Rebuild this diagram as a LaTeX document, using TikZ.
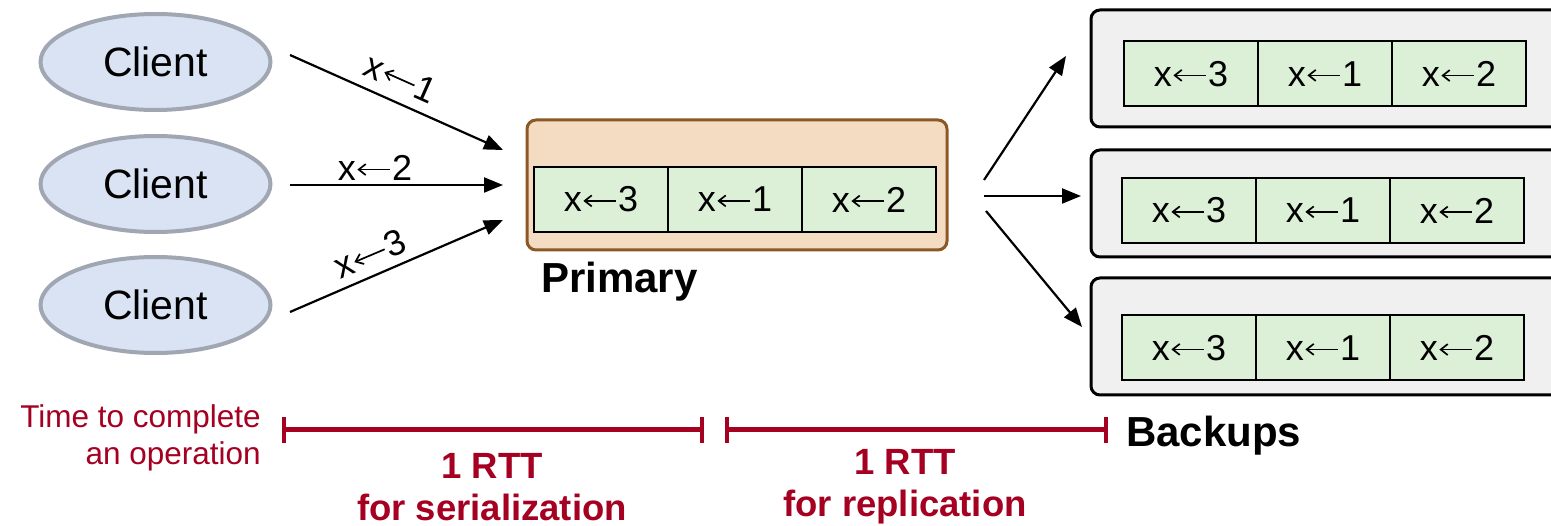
\documentclass[tikz,border=0pt]{standalone}
\usepackage{fontspec}
\setmainfont{Liberation Sans}
\usetikzlibrary{arrows.meta,shapes.geometric}

\definecolor{clientfill}{RGB}{218,227,243}
\definecolor{clientline}{RGB}{160,166,178}
\definecolor{primfill}{RGB}{244,220,194}
\definecolor{primline}{RGB}{140,88,38}
\definecolor{cellfill}{RGB}{220,240,216}
\definecolor{backfill}{RGB}{240,240,240}
\definecolor{rttred}{RGB}{165,0,33}

% assignment arrow drawn inline, sized for the 36pt log text
\newcommand\assignarrow{\hspace{0.5pt}\tikz[baseline=0pt]\draw[line width=1.7pt,
  {Straight Barb[length=7pt,width=11pt,line width=1.7pt]}-] (0pt,11pt) -- (33pt,11pt);\hspace{1pt}}
\newcommand\assign[1]{x\assignarrow#1}

\tikzset{
  client/.style={ellipse, draw=clientline, line width=4pt, fill=clientfill,
    minimum width=230pt, minimum height=96pt, inner sep=0pt,
    font=\fontsize{41}{47}\selectfont},
  cell/.style={rectangle, draw=black, line width=2pt, fill=cellfill,
    minimum width=134pt, minimum height=65pt, inner sep=0pt,
    font=\fontsize{36}{42}\selectfont},
  primbox/.style={rectangle, rounded corners=9pt, draw=primline, line width=3pt,
    fill=primfill, inner sep=0pt},
  backbox/.style={rectangle, rounded corners=9pt, draw=black, line width=3pt,
    fill=backfill, inner sep=0pt},
  msg/.style={line width=2.2pt, -{Triangle[length=19pt,width=15pt]}},
  msglabel/.style={font=\fontsize{36}{42}\selectfont, inner sep=0pt},
  title/.style={font=\bfseries\fontsize{42}{48}\selectfont, inner sep=0pt},
  span/.style={draw=rttred, line width=5pt, {Bar[width=26pt,line width=4pt]}-{Bar[width=26pt,line width=4pt]}},
  rttlabel/.style={text=rttred, font=\bfseries\fontsize{36.5}{42}\selectfont, align=center, inner sep=0pt},
}

\begin{document}
\begin{tikzpicture}[x=1pt,y=-1pt]
\useasboundingbox (0,0) rectangle (1551,526);
\clip (0,0) rectangle (1551,526);

% clients
\node[client] (c1) at (155.5,62) {Client};
\node[client] (c2) at (155.5,184) {Client};
\node[client] (c3) at (155.5,305) {Client};

% primary with its log
\node[primbox, minimum width=420pt, minimum height=130pt] (prim) at (737,185) {};
\node[cell] (p1) at (601,199.5) {\assign{3}};
\node[cell] (p2) at (735,199.5) {\assign{1}};
\node[cell] (p3) at (869,199.5) {\assign{2}};
\node[title, anchor=base west] (primlbl) at (541,293) {Primary};

% backups with their logs
\node[backbox, minimum width=484pt, minimum height=117pt] (b1) at (1333,68.5) {};
\node[backbox, minimum width=484pt, minimum height=107pt] (b2) at (1333,203.5) {};
\node[backbox, minimum width=484pt, minimum height=117pt] (b3) at (1333,336.5) {};
\node[cell] (b1a) at (1191,74) {\assign{3}};
\node[cell] (b1b) at (1325,74) {\assign{1}};
\node[cell] (b1c) at (1459,74) {\assign{2}};
\node[cell] (b2a) at (1189,210.5) {\assign{3}};
\node[cell] (b2b) at (1323,210.5) {\assign{1}};
\node[cell] (b2c) at (1457,210.5) {\assign{2}};
\node[cell] (b3a) at (1189,348) {\assign{3}};
\node[cell] (b3b) at (1323,348) {\assign{1}};
\node[cell] (b3c) at (1457,348) {\assign{2}};
\node[title, anchor=base west] (backlbl) at (1126,447) {Backups};

% client requests
\coordinate (s1) at (290,55);
\coordinate (s2) at (290,185);
\coordinate (s3) at (290,312);
\coordinate (e1) at (503,150);
\coordinate (e2) at (503,185);
\coordinate (e3) at (503,220);
\draw[msg] (s1) -- (e1);
\draw[msg] (s2) -- (e2);
\draw[msg] (s3) -- (e3);
\node[msglabel, rotate=-24] (l1) at (401,78) {\assign{1}};
\node[msglabel] (l2) at (375,168) {\assign{2}};
\node[msglabel, rotate=23] (l3) at (370,254) {\assign{3}};

% replication to backups
\coordinate (r1) at (984,180);
\coordinate (r2) at (984,196);
\coordinate (r3) at (986,211);
\coordinate (f1) at (1066,56);
\coordinate (f2) at (1081,196);
\coordinate (f3) at (1082,327);
\draw[msg] (r1) -- (f1);
\draw[msg] (r2) -- (f2);
\draw[msg] (r3) -- (f3);

% latency spans
\coordinate (t0) at (282,430);
\coordinate (t1) at (704,430);
\coordinate (t2) at (725,430);
\coordinate (t3) at (1108,430);
\draw[span] (t0) -- (t1);
\draw[span] (t2) -- (t3);
\node[text=rttred, font=\fontsize{31.5}{37}\selectfont, align=right, anchor=east, inner sep=0pt]
  (timelbl) at (261,438) {Time to complete\\an operation};
\node[rttlabel] (rtt1) at (492,487) {1 RTT\\for serialization};
\node[rttlabel] (rtt2) at (905,487) {1 RTT\\for replication};
\end{tikzpicture}
\end{document}
